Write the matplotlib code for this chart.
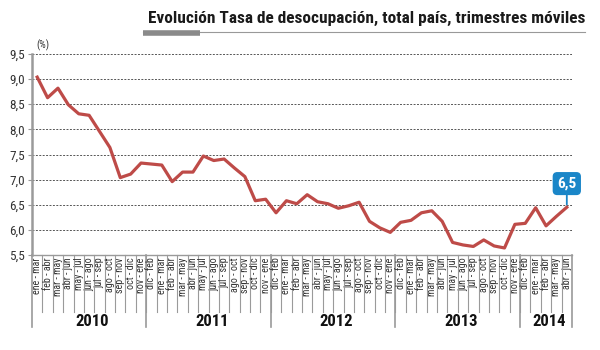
import matplotlib
matplotlib.use("Agg")
import matplotlib.pyplot as plt

plt.rcParams['font.family'] = ['Roboto Condensed', 'Archivo Narrow', 'Sofia Sans Condensed', 'DejaVu Sans']

periods = ["ene - mar", "feb - abr", "mar - may", "abr - jun", "may - jul", "jun - ago",
           "jul - sep", "ago - oct", "sep - nov", "oct - dic", "nov - ene", "dic - feb"]

# 2010 starts at ene-mar, later years start at dic-feb
labels = periods[:11]
for y in range(3):
    labels += [periods[11]] + periods[:11]
labels += [periods[11]] + periods[:4]

years = ["2010", "2011", "2012", "2013", "2014"]
year_counts = [11, 12, 12, 12, 5]

rate = [9.04, 8.63, 8.82, 8.49, 8.31, 8.28, 7.96, 7.64, 7.04, 7.11,
        7.33, 7.31, 7.29, 6.96, 7.15, 7.15, 7.47, 7.38, 7.41, 7.23,
        7.06, 6.58, 6.61, 6.34, 6.58, 6.52, 6.70, 6.56, 6.52, 6.43,
        6.48, 6.55, 6.17, 6.04, 5.95, 6.15, 6.19, 6.34, 6.38, 6.17,
        5.75, 5.70, 5.67, 5.80, 5.68, 5.64, 6.11, 6.13, 6.44, 6.08,
        6.27, 6.45]
yticks = [5.5, 6.0, 6.5, 7.0, 7.5, 8.0, 8.5, 9.0, 9.5]

fig = plt.figure(figsize=(6, 3.5), dpi=100)
ax = fig.add_axes([32 / 600, 1 - 255 / 350, 540 / 600, 201 / 350])

x = list(range(len(rate)))
ax.plot(x, rate, color='#be4b48', lw=2.3, solid_joinstyle='round', zorder=3)

ax.set_xlim(-0.5, len(rate) - 0.5)
ax.set_ylim(5.5, 9.5)
ax.set_yticks(yticks)
ax.set_yticklabels([f"{v:.1f}".replace('.', ',') for v in yticks], fontsize=9.5, color='#333333')
ax.tick_params(axis='y', length=3, color='#999999', pad=2)
ax.set_xticks([])
for v in yticks[1:]:
    ax.axhline(v, color='#555555', lw=0.7, ls=(0, (2, 1.5)), zorder=1)

for s in ['top', 'right']:
    ax.spines[s].set_visible(False)
ax.spines['left'].set_color('#9a9a9a')
ax.spines['left'].set_linewidth(1.8)
ax.spines['bottom'].set_color('#9a9a9a')
ax.spines['bottom'].set_linewidth(1.0)

tr = ax.get_xaxis_transform()
for i, lab in enumerate(labels):
    ax.text(i, -0.012, lab, rotation=90, ha='center', va='top', fontsize=7.2,
            color='#333333', transform=tr)
    if i > 0:
        ax.plot([i - 0.5, i - 0.5], [0, -0.284], color='#9a9a9a', lw=0.8,
                transform=tr, clip_on=False)

start = -0.5
for yr, n in zip(years, year_counts):
    end = start + n
    ax.plot([start, start], [0, -0.358], color='#9a9a9a', lw=1.2, transform=tr, clip_on=False)
    ax.text((start + end) / 2 + 0.3, -0.333, yr, ha='center', va='center', fontsize=12,
            fontweight='bold', color='#111111', transform=tr)
    start = end
ax.plot([start, start], [0, -0.358], color='#9a9a9a', lw=1.2, transform=tr, clip_on=False)

ax.text(36 / 600, 1 - 45 / 350, "(%)", transform=fig.transFigure, fontsize=7.5,
        ha='left', va='center', color='#333333')

ax.annotate("6,5", xy=(x[-1], rate[-1]), xytext=(0, 12), textcoords='offset points',
            ha='center', va='bottom', fontsize=11, fontweight='bold', color='white',
            bbox=dict(boxstyle='round,pad=0.25', fc='#1a86c8', ec='#1a86c8'),
            arrowprops=dict(arrowstyle='-', color='#1a86c8', lw=1.3, shrinkA=0, shrinkB=2))

fig.text(585 / 600, 1 - 18 / 350, "Evolución Tasa de desocupación, total país, trimestres móviles",
         ha='right', va='center', fontsize=12.4, fontweight='bold', color='#1a1a1a')
fig.add_artist(plt.Line2D([143 / 600, 585 / 600], [1 - 32 / 350, 1 - 32 / 350],
                          color='#999999', lw=0.8))
fig.add_artist(plt.Line2D([143 / 600, 200 / 600], [1 - 33 / 350, 1 - 33 / 350],
                          color='#8a8a8a', lw=4, solid_capstyle='butt'))

fig.savefig("out.png", dpi=100)
